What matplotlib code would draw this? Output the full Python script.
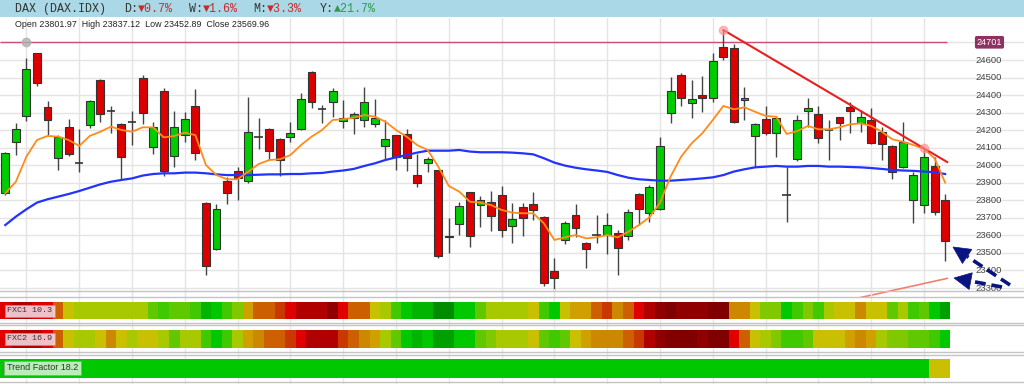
import numpy as np
import matplotlib
matplotlib.use("Agg")
import matplotlib.pyplot as plt
import matplotlib.transforms as mtransforms
from matplotlib.colors import ListedColormap
from matplotlib.lines import Line2D
from matplotlib.patches import Polygon

# --- daily candles (DAX), oldest first ---
opens = [23844, 24135, 24281, 24640, 24330, 24040, 24220, 24011, 24228, 24484,
         24311, 24233, 24247, 24499, 24102, 24423, 24055, 24172, 24338, 23787,
         23521, 23912, 23967, 23910, 24163, 24205, 24148, 24159, 24207, 24530,
         24319, 24359, 24254, 24271, 24258, 24233, 24112, 24172, 24178, 23945,
         24015, 23973, 23597, 23663, 23850, 23774, 23792, 23830, 23654, 23760,
         23779, 23703, 23399, 23574, 23716, 23559, 23602, 23602, 23616, 23597,
         23834, 23726, 23749, 24300, 24514, 24357, 24400, 24385, 24672, 24666,
         24372, 24169, 24262, 24186, 23830, 24034, 24311, 24292, 24201, 24273,
         24330, 24239, 24258, 24188, 24112, 23988, 23802, 23774, 23996, 23801.97]
highs = [24075, 24239, 24610, 24640, 24368, 24172, 24266, 24205, 24372, 24490,
         24338, 24239, 24309, 24514, 24249, 24442, 24309, 24305, 24433, 23793,
         23779, 23935, 23992, 24391, 24268, 24214, 24154, 24249, 24414, 24539,
         24344, 24438, 24372, 24305, 24444, 24378, 24258, 24172, 24205, 24062,
         24049, 23973, 23701, 23793, 23850, 23825, 23855, 23882, 23783, 23787,
         23850, 23711, 23470, 23684, 23779, 23565, 23716, 23730, 23631, 23749,
         23840, 23888, 24159, 24501, 24528, 24486, 24509, 24638, 24771, 24691,
         24448, 24239, 24340, 24281, 23992, 24286, 24381, 24338, 24258, 24273,
         24362, 24315, 24324, 24216, 24116, 24249, 23964, 24096, 24049, 23837.12]
lows = [23830, 24058, 24254, 24454, 24172, 23973, 24053, 23963, 24215, 24249,
        24186, 23920, 24116, 24233, 24062, 23939, 23992, 24134, 24030, 23375,
        23517, 23779, 23802, 23897, 24091, 24030, 23939, 24134, 24201, 24324,
        24243, 24277, 24214, 24178, 24216, 24216, 24034, 23973, 23969, 23878,
        23963, 23473, 23498, 23602, 23536, 23650, 23625, 23593, 23555, 23597,
        23688, 23310, 23289, 23551, 23593, 23416, 23555, 23492, 23375, 23574,
        23660, 23675, 23745, 24243, 24338, 24268, 24305, 24362, 24600, 24239,
        24258, 23992, 24172, 24045, 23677, 24025, 24220, 24129, 24030, 24144,
        24182, 24188, 24121, 24030, 23920, 23982, 23669, 23726, 23716, 23452.89]
closes = [24072, 24205, 24549, 24467, 24258, 24159, 24062, 24011, 24368, 24294,
          24311, 24045, 24247, 24296, 24216, 23967, 24216, 24264, 24068, 23426,
          23749, 23844, 23926, 24192, 24163, 24081, 24030, 24182, 24376, 24362,
          24319, 24423, 24271, 24290, 24359, 24267, 24150, 24045, 24043, 23897,
          24036, 23483, 23592, 23768, 23597, 23802, 23713, 23631, 23694, 23697,
          23745, 23327, 23355, 23669, 23640, 23523, 23602, 23660, 23530, 23732,
          23749, 23878, 24110, 24423, 24385, 24376, 24385, 24596, 24615, 24245,
          24385, 24235, 24182, 24267, 23830, 24258, 24328, 24154, 24201, 24239,
          24311, 24277, 24125, 24121, 23964, 24131, 23945, 24049, 23732, 23569.96]

# moving averages as drawn (orange = fast, blue = slow)
ma_fast = [23840, 23906, 24049, 24144, 24167, 24163, 24144, 24110, 24167, 24191,
           24220, 24201, 24191, 24216, 24216, 24159, 24167, 24186, 24172, 24001,
           23944, 23920, 23920, 23963, 24007, 24030, 24034, 24058, 24115, 24163,
           24201, 24258, 24262, 24271, 24286, 24277, 24248, 24201, 24163, 24115,
           24087, 23992, 23882, 23849, 23792, 23787, 23773, 23745, 23730, 23726,
           23726, 23669, 23574, 23589, 23602, 23583, 23589, 23602, 23589, 23621,
           23659, 23703, 23787, 23935, 24049, 24125, 24182, 24258, 24338, 24319,
           24330, 24305, 24281, 24277, 24178, 24195, 24224, 24205, 24205, 24216,
           24233, 24239, 24224, 24191, 24148, 24134, 24115, 24093, 24039, 23901]
ma_slow = [23659, 23707, 23749, 23787, 23806, 23821, 23836, 23853, 23872, 23891,
           23906, 23916, 23925, 23941, 23950, 23954, 23954, 23958, 23958, 23954,
           23948, 23944, 23944, 23944, 23946, 23948, 23948, 23950, 23950, 23954,
           23956, 23964, 23970, 23979, 23996, 24011, 24030, 24045, 24058, 24072,
           24083, 24083, 24083, 24087, 24078, 24074, 24074, 24074, 24072, 24068,
           24062, 24040, 24015, 23998, 23986, 23977, 23970, 23962, 23944, 23929,
           23920, 23916, 23912, 23912, 23916, 23920, 23925, 23931, 23944, 23964,
           23977, 23988, 23992, 23996, 23992, 23992, 23996, 23996, 23992, 23992,
           23990, 23988, 23984, 23979, 23973, 23970, 23968, 23964, 23960, 23950]

# heat-strip scores (0 = strongest bearish ... 16 = strongest bullish)
fxc1 = [3, 2, 2, 3, 3, 5, 8, 9, 9, 9, 9, 9, 9, 9, 11, 12, 11, 11, 12, 14,
        13, 12, 10, 7, 5, 5, 4, 3, 2, 2, 2, 1, 3, 5, 5, 8, 9, 12, 13, 14,
        14, 16, 16, 13, 13, 11, 9, 9, 9, 9, 8, 12, 13, 8, 7, 7, 5, 4, 6, 5,
        3, 2, 1, 0, 1, 1, 1, 0, 0, 6, 6, 8, 10, 10, 13, 12, 10, 12, 9, 8,
        8, 6, 8, 8, 11, 9, 12, 11, 13, 15]
fxc2 = [3, 2, 2, 2, 3, 5, 8, 9, 9, 8, 6, 8, 9, 8, 8, 9, 11, 9, 9, 12,
        13, 12, 9, 7, 6, 5, 5, 4, 3, 2, 2, 2, 4, 5, 6, 7, 9, 11, 13, 14,
        13, 15, 15, 13, 13, 11, 10, 9, 9, 9, 8, 11, 12, 11, 8, 7, 6, 6, 6, 5,
        4, 2, 1, 0, 0, 0, 1, 0, 0, 3, 5, 8, 9, 10, 12, 12, 11, 8, 8, 8,
        7, 6, 7, 9, 10, 10, 11, 11, 12, 13]
trend = [13] * 88 + [8, 8]

price_ticks = list(range(23300, 24700, 100))
level_price = 24701
level_anchor = 2
trend_x = [68, 89.2]
trend_y = [24771, 24018]
trend_marks_x = [68, 87]
trend_marks_y = [24771, 24096]
support_x = [81, 89.2]
support_y = [23246, 23355]

W, H = 1024, 384


def fx(px):
    return px / W


def fy(py):
    return 1 - py / H


strip_cmap = ListedColormap([
    "#800000", "#900000", "#b00000", "#e00000", "#c83800", "#cc6000",
    "#cc8800", "#d0a000", "#c8c000", "#a8c800", "#80c800", "#60c800",
    "#40c800", "#00c800", "#00b400", "#00a000", "#008c00"])

fig = plt.figure(figsize=(W / 100, H / 100), dpi=100)
fig.patch.set_facecolor("white")

# --- header bar ---
hdr = fig.add_axes([0, fy(17), 1, 17 / H])
hdr.set_facecolor("#aad8e6")
hdr.set_xticks([])
hdr.set_yticks([])
for s in hdr.spines.values():
    s.set_visible(False)

mono = ["Liberation Mono", "DejaVu Sans Mono"]
dark = "#333333"
red_t = "#c42b2b"
green_t = "#2f9a4a"
pieces = [(15, "DAX (DAX.IDX)", dark), (124, "D:", dark), (138, "\u25bc0.7%", red_t),
          (189, "W:", dark), (203, "\u25bc1.6%", red_t), (253, "M:", dark),
          (267, "\u25bc3.3%", red_t), (320, "Y:", dark), (334, "\u25b221.7%", green_t)]
for px, txt, col in pieces:
    fig.text(fx(px), fy(9), txt, family=mono, fontsize=8.4, color=col,
             ha="left", va="center")

# --- main price panel ---
ylo = 24600 - (297 - 60) * 100 / 17.54
yhi = 24600 + (60 - 18) * 100 / 17.54
ax = fig.add_axes([0, fy(297), 1, (297 - 18) / H])
ax.set_xlim(-0.5, -0.5 + W / 10.56)
ax.set_ylim(ylo, yhi)
ax.axis("off")

x = np.arange(len(closes))
for p in range(23300, 24800, 100):
    ax.axhline(p, color="#e4e4e4", lw=1, zorder=0)
for gx in range(2, 90, 5):
    ax.axvline(gx, color="#e4e4e4", lw=1, zorder=0)

o = np.array(opens)
c = np.array(closes)
ax.vlines(x, lows, highs, color="#444444", lw=1, zorder=2)
up = c > o
dn = c < o
doji = c == o
ax.bar(x[up], (c - o)[up], bottom=o[up], width=0.75, color="#00cc00",
       edgecolor="#333333", lw=0.8, zorder=3)
ax.bar(x[dn], (o - c)[dn], bottom=c[dn], width=0.75, color="#dd0000",
       edgecolor="#333333", lw=0.8, zorder=3)
ax.hlines(o[doji], x[doji] - 0.4, x[doji] + 0.4, color="#333333", lw=1.2, zorder=3)

ax.plot(x, ma_slow, color="#2233ff", lw=1.6, zorder=4)
ax.plot(x, ma_fast, color="#ff8c1a", lw=1.3, zorder=4)

ax.hlines(level_price, -0.5, 89.2, color="#c8507a", lw=1, zorder=1)
ax.plot([level_anchor], [level_price], "o", color="#b0b0b0", ms=6, alpha=0.8, zorder=5)
ax.plot(trend_x, trend_y, color="#e82020", lw=1.5, zorder=5)
ax.plot(trend_marks_x, trend_marks_y, "o", color="#ff9090", ms=6, alpha=0.6, zorder=5)
ax.plot(support_x, support_y, color="#f08070", lw=1.2, zorder=5)

tr = mtransforms.blended_transform_factory(ax.transAxes, ax.transData)
for p in price_ticks:
    ax.text(1002 / W, p, str(p), transform=tr, ha="right", va="center",
            fontsize=6.8, color="#444444", family="Liberation Sans")
ax.text(989.5 / W, level_price, str(level_price), transform=tr, ha="center",
        va="center", fontsize=6.6, color="white", family="Liberation Sans",
        bbox=dict(boxstyle="round,pad=0.2", fc="#8e3264", ec="none"))

fig.text(fx(15), fy(24.5), "Open 23801.97  High 23837.12  Low 23452.89  Close 23569.96",
         family="Liberation Sans", fontsize=6.4, color="#222222", va="center", ha="left")

# --- indicator strips ---
bx = fig.add_axes([0, 0, 1, (384 - 289) / H])
bx.set_xlim(ax.get_xlim())
bx.set_ylim(384, 289)
bx.axis("off")
bx.patch.set_alpha(0)
for gx in range(2, 90, 5):
    bx.axvline(gx, color="#e8e8e8", lw=1, zorder=0)
for yy in [291, 297, 323.3, 325.3, 351.7, 355, 381.7]:
    bx.axhline(yy, color="#c4c4c4", lw=1, zorder=1)

strips = [(fxc1, 302, 17), (fxc2, 329.5, 18.5), (trend, 358.5, 19.5)]
for scores, top, hgt in strips:
    bx.bar(x, hgt, bottom=top, width=1.0, color=strip_cmap(np.array(scores)),
           lw=0, zorder=2)

btr = mtransforms.blended_transform_factory(bx.transAxes, bx.transData)
bx.text(7 / W, 311, "FXC1 10.3", transform=btr, family=mono, fontsize=6, color="#333333",
        va="center", ha="left", zorder=4,
        bbox=dict(boxstyle="square,pad=0.3", fc="#f4d6de", ec="#999999", lw=0.6, alpha=0.9))
bx.text(7 / W, 339, "FXC2 16.9", transform=btr, family=mono, fontsize=6, color="#333333",
        va="center", ha="left", zorder=4,
        bbox=dict(boxstyle="square,pad=0.3", fc="#f4d6de", ec="#999999", lw=0.6, alpha=0.9))
bx.text(7 / W, 368, "Trend Factor 18.2", transform=btr, family="Liberation Sans",
        fontsize=6.5, color="#333333", va="center", ha="left", zorder=4,
        bbox=dict(boxstyle="square,pad=0.3", fc="#ccf4cc", ec="#999999", lw=0.6, alpha=0.9))

# --- annotation arrows (dashed shaft + solid head, in figure pixels) ---
navy = "#0a1480"
for tail, tip in [((1010, 285), (953, 247)), ((1002, 287), (954, 278))]:
    t = np.array(tail, float)
    h = np.array(tip, float)
    u = (h - t) / np.hypot(*(h - t))
    n = np.array([-u[1], u[0]])
    base = h - 17 * u
    shaft = Line2D([fx(t[0]), fx(base[0])], [fy(t[1]), fy(base[1])],
                   transform=fig.transFigure, color=navy, lw=2.6,
                   dashes=(3, 1.6), zorder=10)
    fig.add_artist(shaft)
    corners = [h, base + 8.5 * n, base - 8.5 * n]
    head = Polygon([(fx(p[0]), fy(p[1])) for p in corners], closed=True,
                   transform=fig.transFigure, fc=navy, ec=navy, lw=0.5, zorder=10)
    fig.add_artist(head)

fig.savefig("out.png", dpi=100)
